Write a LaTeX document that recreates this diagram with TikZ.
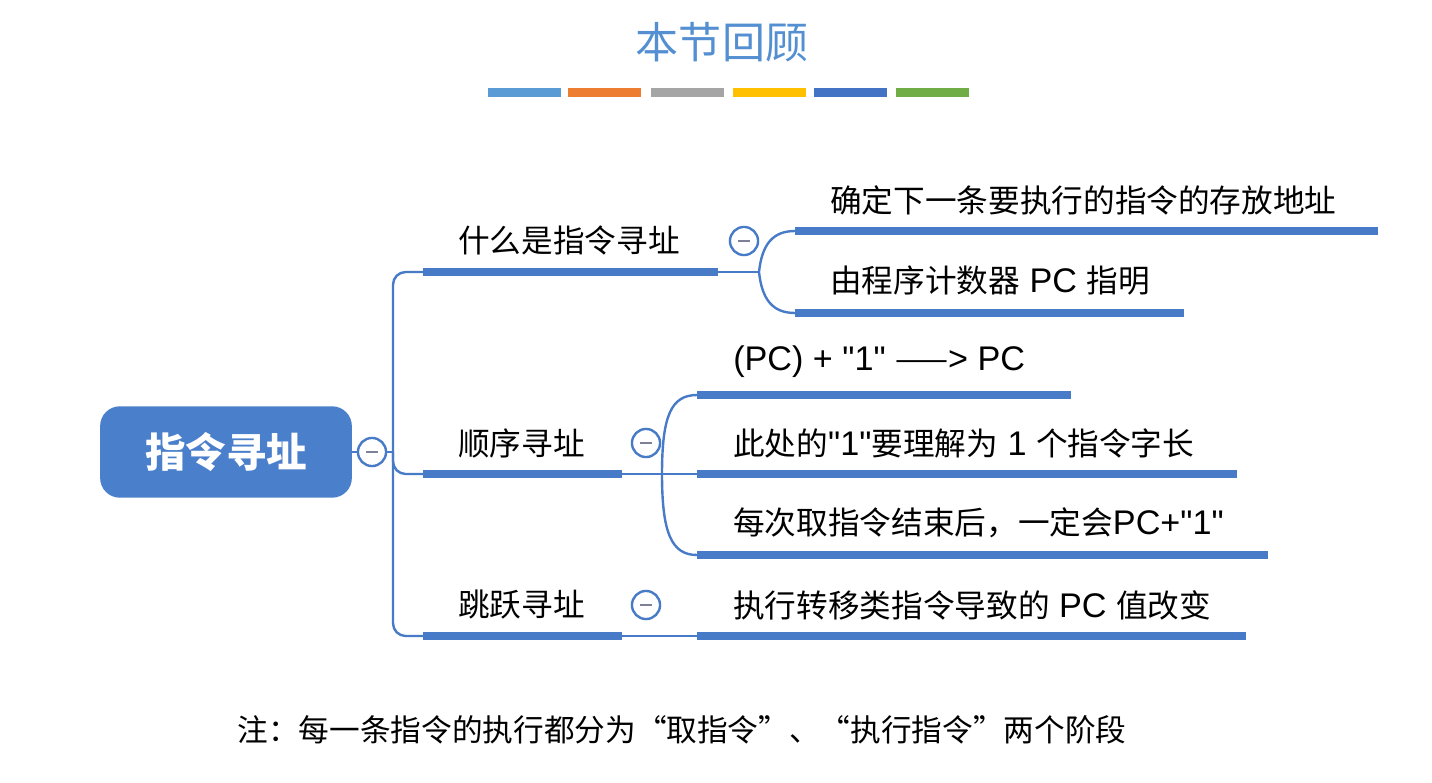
\documentclass[tikz,border=0pt]{standalone}
\usepackage{fontspec}
\newfontfamily\cjkfont{Noto Sans CJK SC}
\newfontfamily\latfont{Liberation Sans}[Scale=1.08]
\newcommand\latrun[1]{{\latfont #1}}
\usetikzlibrary{calc,positioning}

\definecolor{linec}{RGB}{72,123,199}
\definecolor{rootc}{RGB}{74,127,203}
\definecolor{titlec}{RGB}{84,143,210}
\definecolor{foldm}{RGB}{125,128,150}
\definecolor{barA}{RGB}{91,155,213}
\definecolor{barB}{RGB}{237,125,49}
\definecolor{barC}{RGB}{165,165,165}
\definecolor{barD}{RGB}{255,192,0}
\definecolor{barE}{RGB}{68,114,196}
\definecolor{barF}{RGB}{112,173,71}

\begin{document}
\begin{tikzpicture}[x=0.025cm,y=-0.025cm,
    thinline/.style={draw=linec,line width=1.7pt},
    underline/.style={draw=linec,line width=5.4pt},
    itemtext/.style={anchor=west,inner sep=0pt,font=\cjkfont\fontsize{22.5}{27}\selectfont},
    rootbox/.style={rounded corners=14pt,fill=rootc,text=white,minimum width=179pt,
        minimum height=65pt,font=\cjkfont\fontsize{28.8}{34}\selectfont\bfseries},
    fold/.style={circle,draw=linec,line width=1.7pt,fill=white,minimum size=20pt,inner sep=0pt,
        path picture={\draw[foldm,line width=1.5pt]
            ([xshift=-4pt]path picture bounding box.center) -- ([xshift=4pt]path picture bounding box.center);}}]
        %限定輸出區塊
        \useasboundingbox (0,0) rectangle (1432,782);

        %標題與色條
        \node[text=titlec,font=\cjkfont\fontsize{30.6}{36}\selectfont] (title) at (722,42) {本节回顾};
        \foreach \cx/\cc in {488/barA,568/barB,651/barC,733/barD,814/barE,896/barF}
        {
            \fill[\cc] (\cx,88) rectangle ++(73,9);
        };

        %中心主題
        \node[rootbox] (root) at (226,452) {指令寻址};
        \node[fold] (f0) at (372,452) {};

        %主幹
        \coordinate (trunk) at (393,452);
        \coordinate (a1) at (423,272);  \coordinate (a1e) at (718,272);
        \coordinate (a2) at (423,474);  \coordinate (a2e) at (622,474);
        \coordinate (a3) at (423,636);  \coordinate (a3e) at (622,636);
        \draw[thinline] (root) -- (f0);
        \draw[thinline] (f0) -- (trunk);
        \draw[thinline,rounded corners=9pt] (a1) -| (trunk) |- (a3);
        \draw[thinline,rounded corners=9pt] (trunk) |- (a2);
        \foreach \p in {a1,a2,a3}
        {
            \draw[underline] (\p) -- (\p e);
        };

        \node[itemtext] (n1) at (458,240) {什么是指令寻址};
        \node[itemtext] (n2) at (458,443) {顺序寻址};
        \node[itemtext] (n3) at (458,605) {跳跃寻址};
        \node[fold] (f1) at (744,241) {};
        \node[fold] (f2) at (646,443) {};
        \node[fold] (f3) at (646,605) {};

        %什么是指令寻址
        \coordinate (s1) at (759,272);
        \coordinate (b1) at (795,231);  \coordinate (b1e) at (1378,231);
        \coordinate (b2) at (795,313);  \coordinate (b2e) at (1184,313);
        \draw[thinline] (a1e) -- (s1);
        \draw[thinline] (s1) .. controls +(3,-28) and +(-22,0) .. (b1);
        \draw[thinline] (s1) .. controls +(3,28) and +(-22,0) .. (b2);
        \node[itemtext] (m1) at (830,200) {确定下一条要执行的指令的存放地址};
        \node[itemtext] (m2) at (830,281) {由程序计数器\latrun{ PC }指明};

        %顺序寻址
        \coordinate (s2) at (662,474);
        \coordinate (c1) at (697,395);  \coordinate (c1e) at (1071,395);
        \coordinate (c2) at (697,474);  \coordinate (c2e) at (1237,474);
        \coordinate (c3) at (697,555);  \coordinate (c3e) at (1268,555);
        \draw[thinline] (a2e) -- (c2);
        \draw[thinline] (s2) .. controls +(0,-58) and +(-26,0) .. (c1);
        \draw[thinline] (s2) .. controls +(0,58) and +(-26,0) .. (c3);
        \node[itemtext] (k1) at (733,362) {\latrun{(PC) + "1" }——\latrun{> PC}};
        \node[itemtext] (k2) at (733,443) {此处的\latrun{"1"}要理解为\latrun{ 1 }个指令字长};
        \node[itemtext] (k3) at (733,523) {每次取指令结束后，一定会\latrun{PC+"1"}};

        %跳跃寻址
        \coordinate (d1) at (697,636);  \coordinate (d1e) at (1246,636);
        \draw[thinline] (a3e) -- (d1);
        \node[itemtext] (j1) at (733,605) {执行转移类指令导致的\latrun{ PC }值改变};

        \foreach \p in {b1,b2,c1,c2,c3,d1}
        {
            \draw[underline] (\p) -- (\p e);
        };

        %註
        \node[font=\cjkfont\fontsize{21.8}{26}\selectfont] (note) at (682,730) {注：每一条指令的执行都分为“取指令”、“执行指令”两个阶段};

    \end{tikzpicture}
\end{document}
